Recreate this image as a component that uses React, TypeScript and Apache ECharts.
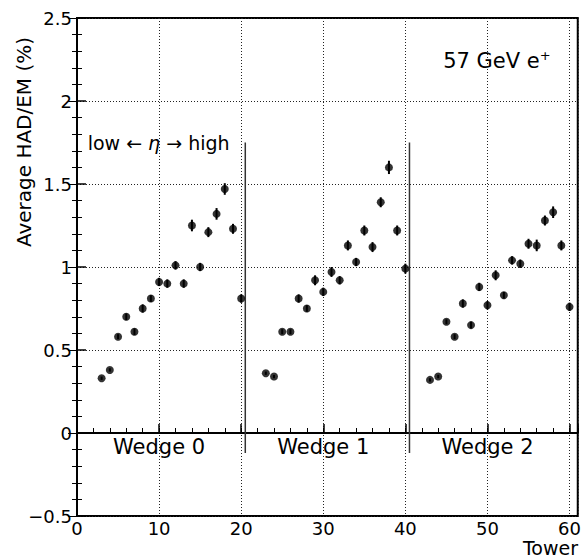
import React, { useEffect, useRef } from "react";
import * as echarts from "echarts";

const wedge0Towers = [3, 4, 5, 6, 7, 8, 9, 10, 11, 12, 13, 14, 15, 16, 17, 18, 19, 20];
const wedge0Values = [0.33, 0.38, 0.58, 0.70, 0.61, 0.75, 0.81, 0.91, 0.90, 1.01, 0.90, 1.25, 1.00, 1.21, 1.32, 1.47, 1.23, 0.81];
const wedge0Errors = [0.01, 0.01, 0.015, 0.02, 0.02, 0.025, 0.02, 0.025, 0.025, 0.025, 0.025, 0.035, 0.025, 0.03, 0.035, 0.035, 0.03, 0.025];

const wedge1Towers = [23, 24, 25, 26, 27, 28, 29, 30, 31, 32, 33, 34, 35, 36, 37, 38, 39, 40];
const wedge1Values = [0.36, 0.34, 0.61, 0.61, 0.81, 0.75, 0.92, 0.85, 0.97, 0.92, 1.13, 1.03, 1.22, 1.12, 1.39, 1.60, 1.22, 0.99];
const wedge1Errors = [0.01, 0.01, 0.015, 0.015, 0.025, 0.02, 0.03, 0.025, 0.03, 0.025, 0.03, 0.025, 0.03, 0.03, 0.03, 0.04, 0.03, 0.03];

const wedge2Towers = [43, 44, 45, 46, 47, 48, 49, 50, 51, 52, 53, 54, 55, 56, 57, 58, 59, 60];
const wedge2Values = [0.32, 0.34, 0.67, 0.58, 0.78, 0.65, 0.88, 0.77, 0.95, 0.83, 1.04, 1.02, 1.14, 1.13, 1.28, 1.33, 1.13, 0.76];
const wedge2Errors = [0.01, 0.01, 0.015, 0.015, 0.025, 0.02, 0.025, 0.025, 0.03, 0.02, 0.025, 0.025, 0.03, 0.035, 0.03, 0.035, 0.03, 0.025];

const separatorX = [20.5, 40.5];
const separatorRange = [-0.12, 1.75];

const wedgeLabels = ["Wedge 0", "Wedge 1", "Wedge 2"];
const wedgeLabelX = [10, 30, 50];
const wedgeLabelY = -0.085;

const xMin = 0;
const xMax = 61;
const xInterval = 10;
const yMin = -0.5;
const yMax = 2.5;
const yInterval = 0.5;

const FONT = "DejaVu Sans";

export default function App() {
  const ref = useRef<HTMLDivElement>(null);
  useEffect(() => {
    document.body.style.margin = "0";
    const chart = echarts.init(ref.current!, null, { renderer: "svg" });

    const points: number[][] = [];
    const addW = (t: number[], v: number[], e: number[]) =>
      t.forEach((x, i) => points.push([x, v[i], e[i]]));
    addW(wedge0Towers, wedge0Values, wedge0Errors);
    addW(wedge1Towers, wedge1Values, wedge1Errors);
    addW(wedge2Towers, wedge2Values, wedge2Errors);

    const gridLine = { show: true, lineStyle: { color: "#222", type: [1, 2], width: 1 } };

    chart.setOption({
      animation: false,
      backgroundColor: "#fff",
      grid: { left: 77, top: 18, right: 6, bottom: 42, show: true, borderColor: "#000", borderWidth: 2, backgroundColor: "transparent" },
      xAxis: [
        {
          type: "value",
          min: xMin,
          max: xMax,
          interval: xInterval,
          axisLine: { show: true, lineStyle: { color: "#000", width: 2 } },
          axisTick: { show: true, inside: true, length: 9, lineStyle: { color: "#000", width: 1.5 } },
          axisLabel: {
            color: "#000",
            fontFamily: FONT,
            fontSize: 18,
            lineHeight: 18,
            margin: 3,
            formatter: (v: number) => (v % 10 === 0 ? String(v) : ""),
          },
          splitLine: gridLine,
        },
        {
          type: "value",
          position: "bottom",
          min: xMin,
          max: xMax,
          interval: 2,
          axisLine: { show: false },
          axisTick: { show: true, inside: true, length: 5, lineStyle: { color: "#000", width: 1 } },
          axisLabel: { show: false },
          splitLine: { show: false },
        },
      ],
      yAxis: [
        {
          type: "value",
          min: yMin,
          max: yMax,
          interval: yInterval,
          axisLine: { show: true, lineStyle: { color: "#000", width: 2 } },
          axisTick: { show: true, inside: true, length: 9, lineStyle: { color: "#000", width: 1.5 } },
          minorTick: { show: true, splitNumber: 5, length: 5, lineStyle: { color: "#000", width: 1 } },
          axisLabel: {
            color: "#000",
            fontFamily: FONT,
            fontSize: 18,
            margin: 5,
            formatter: (v: number) => String(v).replace("-", "\u2212"),
          },
          splitLine: gridLine,
        },
        {
          type: "value",
          position: "right",
          min: yMin,
          max: yMax,
          interval: yInterval,
          axisLine: { show: false },
          axisTick: { show: true, inside: true, length: 9, lineStyle: { color: "#000", width: 1 } },
          minorTick: { show: true, splitNumber: 5, length: 5, lineStyle: { color: "#000", width: 1 } },
          axisLabel: { show: false },
          splitLine: { show: false },
        },
      ],
      series: [
        {
          type: "custom",
          xAxisIndex: 0,
          yAxisIndex: 0,
          data: separatorX.map((x) => [x, separatorRange[0], separatorRange[1]]),
          renderItem: (params: any, api: any) => {
            const a = api.coord([api.value(0), api.value(1)]);
            const b = api.coord([api.value(0), api.value(2)]);
            return {
              type: "line",
              shape: { x1: a[0], y1: a[1], x2: b[0], y2: b[1] },
              style: { stroke: "#333", lineWidth: 1.5 },
            };
          },
          silent: true,
          z: 3,
        },
        {
          type: "custom",
          xAxisIndex: 0,
          yAxisIndex: 0,
          data: points,
          renderItem: (params: any, api: any) => {
            const x = api.value(0);
            const y = api.value(1);
            const e = api.value(2);
            const a = api.coord([x, y + e]);
            const b = api.coord([x, y - e]);
            return {
              type: "line",
              shape: { x1: a[0], y1: a[1], x2: b[0], y2: b[1] },
              style: { stroke: "#000", lineWidth: 2 },
            };
          },
          silent: true,
          z: 4,
        },
        {
          type: "scatter",
          xAxisIndex: 0,
          yAxisIndex: 0,
          data: points.map((p) => [p[0], p[1]]),
          symbol: "circle",
          symbolSize: 8,
          itemStyle: { color: "#000" },
          z: 5,
        },
      ],
    });

    const graphics: any[] = [];
    wedgeLabels.forEach((t, i) => {
      const p = chart.convertToPixel({ gridIndex: 0 }, [wedgeLabelX[i], wedgeLabelY]) as number[];
      graphics.push({
        type: "text",
        x: p[0],
        y: p[1],
        style: { text: t, fill: "#000", font: `21px "${FONT}"`, align: "center", verticalAlign: "middle" },
      });
    });
    const lp = chart.convertToPixel({ gridIndex: 0 }, [1.3, 1.745]) as number[];
    graphics.push({
      type: "text",
      x: lp[0],
      y: lp[1],
      style: {
        text: "low \u2190 {eta|\u03b7} \u2192 high",
        fill: "#000",
        font: `19px "${FONT}"`,
        align: "left",
        verticalAlign: "middle",
        rich: { eta: { fontFamily: FONT, fontSize: 19, fontStyle: "italic", fill: "#000" } },
      },
    });
    const ep = chart.convertToPixel({ gridIndex: 0 }, [44.6, 2.24]) as number[];
    graphics.push({
      type: "text",
      x: ep[0],
      y: ep[1],
      style: {
        text: "57 GeV e{sup|+}",
        fill: "#000",
        font: `21px "${FONT}"`,
        align: "left",
        verticalAlign: "middle",
        rich: { sup: { fontFamily: FONT, fontSize: 13, fill: "#000", padding: [0, 0, 12, 0] } },
      },
    });
    graphics.push({
      type: "text",
      x: 24,
      y: 142,
      rotation: Math.PI / 2,
      style: { text: "Average HAD/EM (%)", fill: "#000", font: `20px "${FONT}"`, align: "center", verticalAlign: "middle" },
    });
    graphics.push({
      type: "text",
      x: 578,
      y: 547.5,
      style: { text: "Tower", fill: "#000", font: `19px "${FONT}"`, lineHeight: 19, align: "right", verticalAlign: "middle" },
    });
    chart.setOption({ graphic: graphics });

    return () => chart.dispose();
  }, []);
  return <div ref={ref} style={{ width: 584, height: 558 }} />;
}
